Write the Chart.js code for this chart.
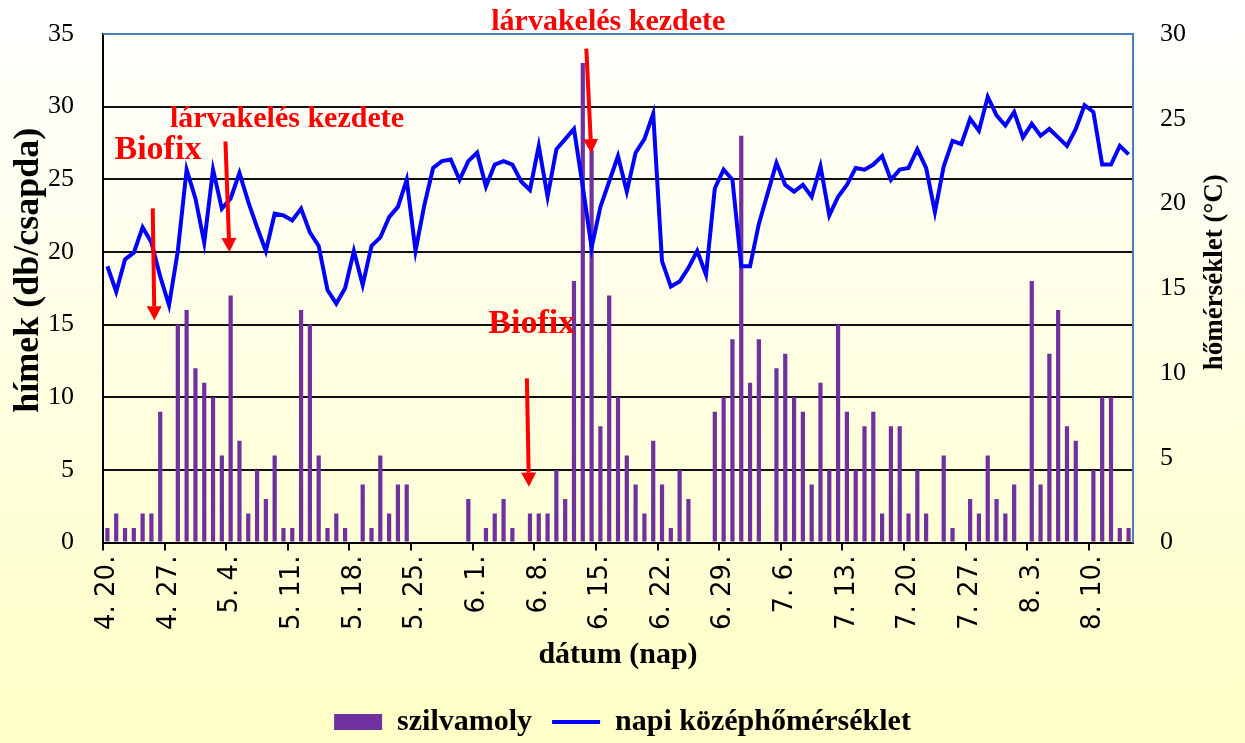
<!DOCTYPE html>
<html>
<head>
<meta charset="utf-8">
<script src="https://cdn.jsdelivr.net/npm/chart.js@4.4.1/dist/chart.umd.min.js"></script>
<style>
  html, body { margin: 0; padding: 0; background: #fff; }
  #wrap { width: 1245px; height: 743px; position: relative; }
</style>
</head>
<body>
<div id="wrap"><canvas id="chart"></canvas></div>
<script>
// napok (4.20 - 8.14)
const days = [
  '4. 20.','4. 21.','4. 22.','4. 23.','4. 24.','4. 25.','4. 26.','4. 27.','4. 28.','4. 29.','4. 30.',
  '5. 1.','5. 2.','5. 3.','5. 4.','5. 5.','5. 6.','5. 7.','5. 8.','5. 9.','5. 10.','5. 11.','5. 12.','5. 13.','5. 14.','5. 15.','5. 16.',
  '5. 17.','5. 18.','5. 19.','5. 20.','5. 21.','5. 22.','5. 23.','5. 24.','5. 25.','5. 26.','5. 27.','5. 28.','5. 29.','5. 30.','5. 31.',
  '6. 1.','6. 2.','6. 3.','6. 4.','6. 5.','6. 6.','6. 7.','6. 8.','6. 9.','6. 10.','6. 11.','6. 12.','6. 13.','6. 14.','6. 15.',
  '6. 16.','6. 17.','6. 18.','6. 19.','6. 20.','6. 21.','6. 22.','6. 23.','6. 24.','6. 25.','6. 26.','6. 27.','6. 28.','6. 29.','6. 30.',
  '7. 1.','7. 2.','7. 3.','7. 4.','7. 5.','7. 6.','7. 7.','7. 8.','7. 9.','7. 10.','7. 11.','7. 12.','7. 13.','7. 14.','7. 15.','7. 16.',
  '7. 17.','7. 18.','7. 19.','7. 20.','7. 21.','7. 22.','7. 23.','7. 24.','7. 25.','7. 26.','7. 27.','7. 28.','7. 29.','7. 30.','7. 31.',
  '8. 1.','8. 2.','8. 3.','8. 4.','8. 5.','8. 6.','8. 7.','8. 8.','8. 9.','8. 10.','8. 11.','8. 12.','8. 13.','8. 14.'
];

// hímek (db/csapda)
const szilvamoly = [
  1, 2, 1, 1, 2, 2, 9, 0, 15, 16, 12, 11, 10, 6, 17, 7, 2, 5, 3, 6,
  1, 1, 16, 15, 6, 1, 2, 1, 0, 4, 1, 6, 2, 4, 4, 0, 0, 0, 0, 0,
  0, 3, 0, 1, 2, 3, 1, 0, 2, 2, 2, 5, 3, 18, 33, 27, 8, 17, 10, 6,
  4, 2, 7, 4, 1, 5, 3, 0, 0, 9, 10, 14, 28, 11, 14, 0, 12, 13, 10, 9,
  4, 11, 5, 15, 9, 5, 8, 9, 2, 8, 8, 2, 5, 2, 0, 6, 1, 0, 3, 2,
  6, 3, 2, 4, 0, 18, 4, 13, 16, 8, 7, 0, 5, 10, 10, 1, 1
];

// napi középhőmérséklet (°C)
const homerseklet = [
  16.3, 14.8, 16.7, 17.1, 18.6, 17.7, 15.7, 14.0, 17.2, 22.0, 20.3, 17.7, 22.0, 19.7, 20.3, 21.8, 20.1, 18.6, 17.2, 19.4,
  19.3, 19.0, 19.7, 18.3, 17.5, 14.9, 14.1, 15.0, 17.2, 15.2, 17.5, 18.0, 19.2, 19.8, 21.4, 17.2, 19.9, 22.1, 22.5, 22.6,
  21.4, 22.5, 23.0, 21.0, 22.3, 22.5, 22.3, 21.3, 20.8, 23.4, 20.4, 23.2, 23.8, 24.4, 21.0, 17.4, 19.8, 21.3, 22.8, 20.7,
  23.0, 23.8, 25.3, 16.6, 15.1, 15.4, 16.2, 17.2, 15.8, 20.9, 22.0, 21.4, 16.3, 16.3, 18.8, 20.6, 22.4, 21.1, 20.7, 21.1,
  20.4, 22.2, 19.3, 20.4, 21.1, 22.1, 22.0, 22.3, 22.8, 21.4, 22.0, 22.1, 23.2, 22.1, 19.5, 22.2, 23.7, 23.5, 25.0, 24.3,
  26.3, 25.2, 24.6, 25.4, 23.9, 24.7, 24.0, 24.4, 23.9, 23.4, 24.4, 25.8, 25.4, 22.3, 22.3, 23.4, 22.9
];

// feliratok és nyilak (nap index, bal tengely értéke)
const notes = [
  { text: 'Biofix', size: 34, at: [5.74, 26.4], from: [5.15, 23.0], to: [5.34, 15.3] },
  { text: 'lárvakelés kezdete', size: 30, at: [20.4, 28.6], from: [13.41, 27.6], to: [13.86, 20.0] },
  { text: 'Biofix', size: 34, at: [48.2, 14.45], from: [47.65, 11.3], to: [47.88, 3.85] },
  { text: 'lárvakelés kezdete', size: 30, at: [56.9, 35.3], from: [54.4, 34.0], to: [54.97, 26.8] }
];

const rightTitle = 'hőmérséklet (°C)';

Chart.defaults.font.family = "'Liberation Serif', 'Times New Roman', serif";
Chart.defaults.color = '#000';

const bgPlugin = {
  id: 'bg',
  beforeDraw(chart) {
    const { ctx, width, height } = chart;
    const g = ctx.createLinearGradient(0, 0, 0, height);
    g.addColorStop(0, '#ffffff');
    g.addColorStop(1, '#ffffc6');
    ctx.save();
    ctx.fillStyle = g;
    ctx.fillRect(0, 0, width, height);
    ctx.restore();
  }
};

// kék keret a rajzterület tetején + jobb oldali tengelycím (alulról felfelé olvasva)
const framePlugin = {
  id: 'frame',
  afterDatasetsDraw(chart) {
    const { ctx, chartArea: a } = chart;
    ctx.save();
    ctx.strokeStyle = '#4a7ebb';
    ctx.lineWidth = 2;
    ctx.beginPath();
    ctx.moveTo(a.left, a.top);
    ctx.lineTo(a.right + 1, a.top);
    ctx.stroke();

    const s = chart.scales.y1;
    ctx.translate(s.right - 30, (a.top + a.bottom) / 2 - 16);
    ctx.rotate(-Math.PI / 2);
    ctx.fillStyle = '#000';
    ctx.font = "bold 27px 'Liberation Serif', serif";
    ctx.textAlign = 'center';
    ctx.textBaseline = 'middle';
    ctx.fillText(rightTitle, 0, 0);
    ctx.restore();
  }
};

const notesPlugin = {
  id: 'notes',
  afterDraw(chart) {
    const { ctx } = chart;
    const x = chart.scales.x, y = chart.scales.y;
    ctx.save();
    ctx.fillStyle = '#ff0000';
    ctx.strokeStyle = '#ff0000';
    notes.forEach(n => {
      ctx.font = 'bold ' + n.size + "px 'Liberation Serif', serif";
      ctx.textAlign = 'center';
      ctx.textBaseline = 'alphabetic';
      ctx.fillText(n.text, x.getPixelForValue(n.at[0]), y.getPixelForValue(n.at[1]));

      const x1 = x.getPixelForValue(n.from[0]), y1 = y.getPixelForValue(n.from[1]);
      const x2 = x.getPixelForValue(n.to[0]), y2 = y.getPixelForValue(n.to[1]);
      const ang = Math.atan2(y2 - y1, x2 - x1);
      const head = 14, half = 7.5;
      const bx = x2 - head * Math.cos(ang), by = y2 - head * Math.sin(ang);
      ctx.lineWidth = 4;
      ctx.beginPath();
      ctx.moveTo(x1, y1);
      ctx.lineTo(bx, by);
      ctx.stroke();
      ctx.beginPath();
      ctx.moveTo(x2, y2);
      ctx.lineTo(bx + half * Math.sin(ang), by - half * Math.cos(ang));
      ctx.lineTo(bx - half * Math.sin(ang), by + half * Math.cos(ang));
      ctx.closePath();
      ctx.fill();
    });
    ctx.restore();
  }
};

new Chart(document.getElementById('chart'), {
  data: {
    labels: days,
    datasets: [
      {
        type: 'bar',
        label: 'szilvamoly',
        data: szilvamoly,
        backgroundColor: '#7030a0',
        yAxisID: 'y',
        order: 1,
        categoryPercentage: 1,
        barPercentage: 0.48
      },
      {
        type: 'line',
        label: 'napi középhőmérséklet',
        data: homerseklet,
        borderColor: '#0000ff',
        backgroundColor: '#0000ff',
        borderWidth: 4,
        pointRadius: 0,
        tension: 0,
        yAxisID: 'y1',
        order: 0
      }
    ]
  },
  options: {
    responsive: true,
    maintainAspectRatio: false,
    animation: false,
    layout: { padding: { top: 34, left: 0, right: 0, bottom: -4 } },
    plugins: {
      tooltip: { enabled: false },
      legend: {
        position: 'bottom',
        labels: {
          usePointStyle: true,
          pointStyleWidth: 48,
          boxHeight: 16,
          padding: 20,
          color: '#000',
          font: { size: 30, weight: 'bold' },
          generateLabels: chart => chart.data.datasets.map((ds, i) => ({
            text: ds.label,
            datasetIndex: i,
            fillStyle: ds.backgroundColor,
            strokeStyle: ds.type === 'line' ? ds.borderColor : ds.backgroundColor,
            lineWidth: ds.type === 'line' ? 4 : 0,
            pointStyle: ds.type === 'line' ? 'line' : 'rect',
            fontColor: '#000',
            hidden: false
          }))
        }
      }
    },
    scales: {
      x: {
        offset: true,
        grid: {
          offset: true,
          drawOnChartArea: false,
          drawTicks: true,
          tickLength: 8,
          lineWidth: 2,
          tickColor: c => (c.index % 7 === 0 ? '#000' : 'rgba(0,0,0,0)')
        },
        border: { color: '#000', width: 2 },
        ticks: {
          autoSkip: false,
          minRotation: 90,
          maxRotation: 90,
          padding: 5,
          font: { family: "'DejaVu Sans', sans-serif", size: 26 },
          callback: (v, i) => (i % 7 === 0 ? days[i] : '')
        },
        title: {
          display: true,
          text: 'dátum (nap)',
          font: { size: 30, weight: 'bold' },
          padding: { top: 2, bottom: 14 }
        }
      },
      y: {
        position: 'left',
        min: 0,
        max: 35,
        afterFit: s => { s.width = 103; },
        ticks: { stepSize: 5, padding: 3, font: { size: 26 } },
        grid: {
          drawTicks: true,
          tickLength: 26,
          tickColor: 'rgba(0,0,0,0)',
          lineWidth: 2,
          color: c => (c.tick.value === 0 || c.tick.value === 35 ? 'rgba(0,0,0,0)' : '#111')
        },
        border: { color: '#000', width: 2 },
        title: {
          display: true,
          text: '    hímek (db/csapda)',
          font: { size: 36, weight: 'bold' },
          padding: { top: 7, bottom: 0 }
        }
      },
      y1: {
        position: 'right',
        min: 0,
        max: 30,
        afterFit: s => { s.width = 112; },
        ticks: { stepSize: 5, padding: 3, font: { size: 26 } },
        grid: {
          drawOnChartArea: false,
          drawTicks: true,
          tickLength: 24,
          tickColor: 'rgba(0,0,0,0)'
        },
        border: { color: '#4a7ebb', width: 2 }
      }
    }
  },
  plugins: [bgPlugin, framePlugin, notesPlugin]
});
</script>
</body>
</html>
